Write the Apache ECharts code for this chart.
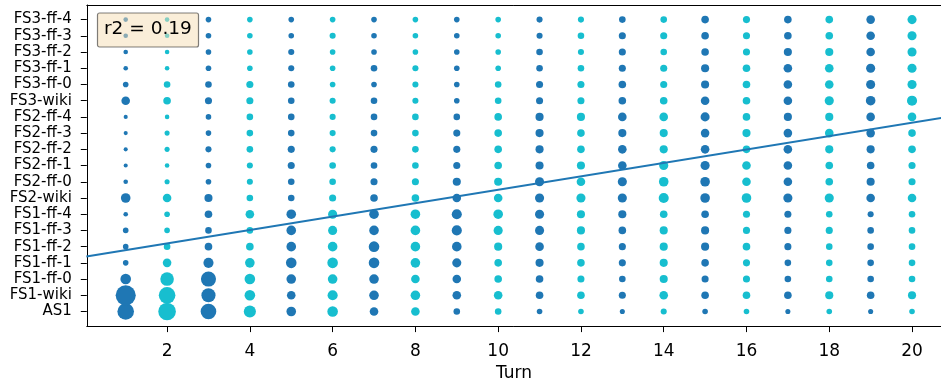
<!DOCTYPE html>
<html>
<head>
<meta charset="utf-8">
<script src="https://cdn.jsdelivr.net/npm/echarts@6/dist/echarts.min.js"></script>
<style>html,body{margin:0;padding:0;background:#fff;overflow:hidden}#c{width:941px;height:387px}</style>
</head>
<body>
<div id="c"></div>
<script>
// Categories, bottom to top
var categories = ['AS1','FS1-wiki','FS1-ff-0','FS1-ff-1','FS1-ff-2','FS1-ff-3','FS1-ff-4',
  'FS2-wiki','FS2-ff-0','FS2-ff-1','FS2-ff-2','FS2-ff-3','FS2-ff-4',
  'FS3-wiki','FS3-ff-0','FS3-ff-1','FS3-ff-2','FS3-ff-3','FS3-ff-4'];
var turns = [1,2,3,4,5,6,7,8,9,10,11,12,13,14,15,16,17,18,19,20];
var xTicks = [2,4,6,8,10,12,14,16,18,20];

// Bubble weight per turn, one value per category (AS1 ... FS3-ff-4)
var turn1  = [16,19.5,10,5,5,5,4, 9,4,3.5,3.5,3.5,3.5, 8,5,4,4,4,4];
var turn2  = [17,16,13,8,6,5,5, 8,4.5,4,4.5,4.5,4, 7,6,4,4,4,4];
var turn3  = [15,13.5,14.5,9.5,7,6,7, 7.5,5,5,5.5,5,5, 6.5,6,5,5,5,5];
var turn4  = [11.5,10,10,9,7,6,8, 6,5.5,5.5,6,6,6, 6.5,6.5,5,5,5,5];
var turn5  = [9,8,9,10,9,9,9, 6,6,6.5,6.5,6,6, 6,6,5.5,5.5,5,5];
var turn6  = [10,9.5,9,10,9,8.5,8.5, 6.5,6,6,5.5,5.5,5.5, 5.5,5,5,5,5.5,5];
var turn7  = [8,9,9,10,10,9,9, 7,6.5,6,6.5,6,6, 6,5,6,5,5,5];
var turn8  = [8,9,8,9,9,9,9, 7,6.5,6,6,6,6, 5.5,5.5,5.5,5,5,5];
var turn9  = [6,8,8,8.5,9,9.5,9.5, 8,7.5,6.5,6.5,6.5,6, 5,5,5,5,5,5];
var turn10 = [6,8,7,7,7.5,8.5,9, 8,7.5,7,7,7,7, 6,6,5,5,5,5];
var turn11 = [5,7,7,7.5,8,8.5,8.5, 8.5,8.5,7.5,7.5,7.5,7.5, 6.5,6.5,6,6,5.5,5.5];
var turn12 = [5,7,6.5,7,7,7.5,7.5, 8.5,8,7.5,7,7,7.5, 6.5,6.5,6,5.5,6,5.5];
var turn13 = [4.5,6.5,6,6.5,6.5,7,7.5, 8.5,8.5,8,8,7.5,8, 7,7,6.5,6.5,6.5,6];
var turn14 = [5.5,8,7.5,7.5,7.5,7.5,7, 9.5,9,8.5,7.5,7.5,8, 7,6.5,6.5,6,6.5,6];
var turn15 = [5,7,6.5,7,7.5,7.5,7, 9,9,8.5,8,8,8.5, 8,7.5,7.5,7,7,7];
var turn16 = [5,7,6.5,6.5,7,6.5,6.5, 9,8,8,7,7.5,7, 7,7,7,6.5,6.5,6.5];
var turn17 = [4.5,7,6,6,6.5,6.5,6.5, 8.5,8,8,8,8,7.5, 8,8,8,7.5,7,7];
var turn18 = [5,7.5,6,6,6,6.5,6, 8.5,7,7,7.5,8,7.5, 8.5,8,8,7.5,7,7];
var turn19 = [4.5,7,6,6,6,6,5.5, 8,7.5,7,7.5,8,8, 9,8.5,8.5,8,8,8];
var turn20 = [5,7.5,6,6,6,6,6, 8,6.5,6.5,7,7,8, 9.5,8.5,8.5,8.5,8.5,8.5];
var weights = [turn1,turn2,turn3,turn4,turn5,turn6,turn7,turn8,turn9,turn10,
  turn11,turn12,turn13,turn14,turn15,turn16,turn17,turn18,turn19,turn20];

// Regression line endpoints (turn, category position)
var regX = [0.05, 20.95];
var regY = [3.395, 12.037];
var r2Label = 'r2 = 0.19';

var palette = ['#1f77b4', '#17becf'];
var FONT = 'DejaVu Sans';

var scatterData = [];
turns.forEach(function (t, i) {
  weights[i].forEach(function (w, j) {
    scatterData.push([t, j, w]);
  });
});
var catTicks = categories.map(function (c, i) { return i; });
var X_MIN = 0.06, X_MAX = 20.7;

var chart = echarts.init(document.getElementById('c'), null, {renderer: 'canvas'});
chart.setOption({
  animation: false,
  backgroundColor: '#fff',
  title: {
    text: r2Label, left: 97, top: 12.5,
    backgroundColor: 'rgba(245,222,179,0.5)',
    borderColor: 'rgba(0,0,0,0.5)', borderWidth: 1.2,
    padding: [6, 7, 8, 7], borderRadius: 2,
    textStyle: {fontFamily: FONT, fontSize: 18.5, lineHeight: 21, fontWeight: 'normal', color: '#000'},
    z: 10
  },
  grid: {left: 86.8, right: 0, top: 5, bottom: 60.5, show: false},
  xAxis: [{
    type: 'value', min: X_MIN, max: X_MAX, position: 'bottom',
    name: 'Turn', nameLocation: 'middle', nameGap: 33,
    nameTextStyle: {fontFamily: FONT, fontSize: 17, color: '#000'},
    axisLine: {show: true, onZero: false, lineStyle: {color: '#000', width: 1}},
    axisTick: {show: true, length: 6, customValues: xTicks, lineStyle: {color: '#000'}},
    axisLabel: {customValues: xTicks, fontFamily: FONT, fontSize: 17, color: '#000', margin: 17},
    splitLine: {show: false}
  }, {
    type: 'value', min: X_MIN, max: X_MAX, position: 'top',
    axisLine: {show: true, onZero: false, lineStyle: {color: '#000', width: 1}},
    axisTick: {show: false}, axisLabel: {show: false}, splitLine: {show: false}
  }],
  yAxis: {
    type: 'value', min: -0.9, max: 18.9,
    axisLine: {show: true, onZero: false, lineStyle: {color: '#000', width: 1}},
    axisTick: {show: true, length: 6, customValues: catTicks, lineStyle: {color: '#000'}},
    axisLabel: {customValues: catTicks,
      formatter: function (v) { return categories[Math.round(v)]; },
      fontFamily: FONT, fontSize: 15, color: '#000', margin: 15},
    splitLine: {show: false}
  },
  series: [
    {
      type: 'scatter',
      data: scatterData,
      symbolSize: function (d) { return d[2] + 0.6; },
      itemStyle: {opacity: 1, color: function (p) { return palette[(p.data[0] + 1) % 2]; }},
      z: 2
    },
    {
      type: 'line',
      data: [[regX[0], regY[0]], [regX[1], regY[1]]],
      symbol: 'none',
      clip: true,
      lineStyle: {color: '#1f77b4', width: 2},
      z: 3
    }
  ]
});
</script>
</body>
</html>
